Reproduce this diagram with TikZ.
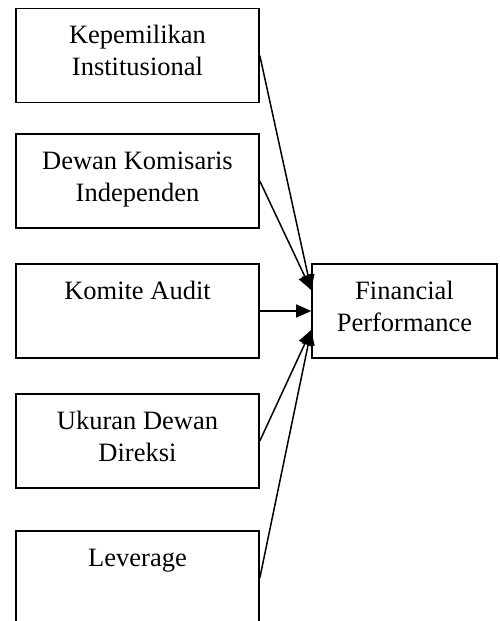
\documentclass[tikz,border=0pt]{standalone}
\usepackage{fontspec}
\setmainfont{Liberation Serif}
\usetikzlibrary{arrows.meta,calc}

% text sits at the top of each box, like a text box
\newcommand{\boxtext}[2]{\parbox[c][94pt][t]{#1}{\centering\rule{0pt}{35pt}#2}}

\begin{document}
\begin{tikzpicture}[x=1pt, y=1pt,
    varbox/.style={draw, line width=1.6pt, inner sep=0pt, font=\fontsize{26.5}{32}\selectfont},
    link/.style={line width=1.5pt, -{Triangle[length=15pt, width=13pt]}}]

    % Fix the size of the picture
    \useasboundingbox (0,0) rectangle (499,-621);

    % Draw the independent variables
    \node[varbox] (ki) at (137.5,-55.5) {\boxtext{243pt}{Kepemilikan\\Institusional}};
    \node[varbox] (dki) at (137.5,-181) {\boxtext{243pt}{Dewan Komisaris\\Independen}};
    \node[varbox] (ka) at (137.5,-311) {\boxtext{243pt}{Komite Audit}};
    \node[varbox] (udd) at (137.5,-441) {\boxtext{243pt}{Ukuran Dewan\\Direksi}};
    \node[varbox] (lev) at (137.5,-578) {\boxtext{243pt}{Leverage}};

    % Draw the dependent variable
    \node[varbox] (fp) at (404.5,-311) {\boxtext{185pt}{Financial\\Performance}};

    % Points where the slanted arrows meet
    \coordinate (fp-up) at ($(fp.west)+(0,21)$);
    \coordinate (fp-down) at ($(fp.west)+(0,-19)$);

    % Draw the arrows
    \draw[link] (ki.east) -- (fp-up);
    \draw[link] (dki.east) -- (fp-up);
    \draw[link] (ka.east) -- (fp.west);
    \draw[link] (udd.east) -- (fp-down);
    \draw[link] (lev.east) -- (fp-down);

\end{tikzpicture}
\end{document}
